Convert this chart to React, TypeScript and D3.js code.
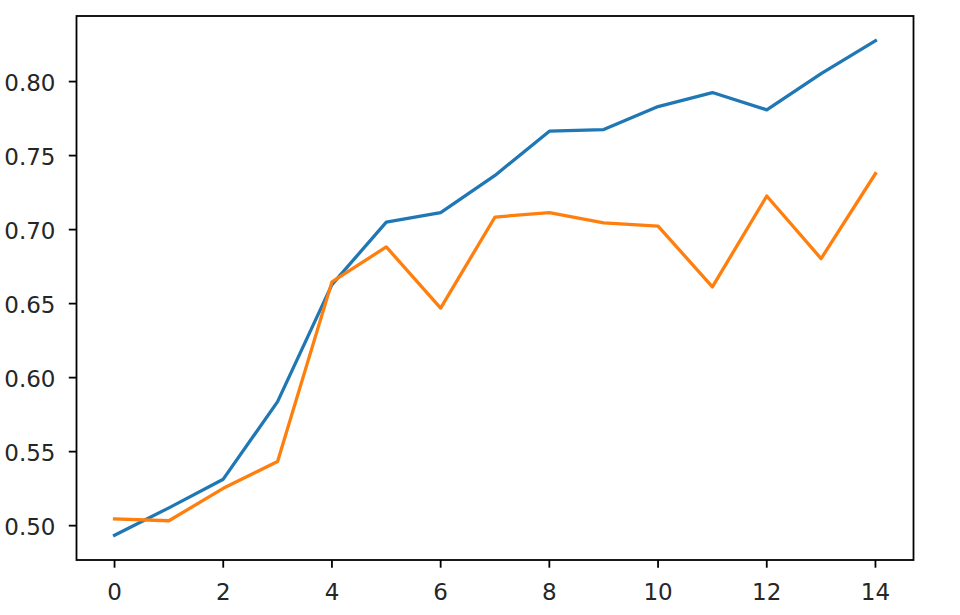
import React, { useEffect, useRef } from "react";
import * as d3 from "d3";

// epochs 0..14
const epochs = [0, 1, 2, 3, 4, 5, 6, 7, 8, 9, 10, 11, 12, 13, 14];
const seriesA = [0.4935, 0.512, 0.5314, 0.5838, 0.6628, 0.7051, 0.7115, 0.7366, 0.7665, 0.7676, 0.7831, 0.7926, 0.7809, 0.8054, 0.8276];
const seriesB = [0.5045, 0.5033, 0.5252, 0.5433, 0.6647, 0.6883, 0.647, 0.7085, 0.7115, 0.7045, 0.7024, 0.6613, 0.7227, 0.6804, 0.7378];
const xTicks = [0, 2, 4, 6, 8, 10, 12, 14];
const yTicks = [0.5, 0.55, 0.6, 0.65, 0.7, 0.75, 0.8];

const App: React.FC = () => {
  const svgRef = useRef<SVGSVGElement>(null);

  useEffect(() => {
    const width = 960;
    const height = 615;
    const left = 76.5;
    const right = 913.5;
    const top = 16;
    const bottom = 560;

    const svg = d3.select(svgRef.current);
    svg.selectAll("*").remove();

    // matplotlib style 5% margins
    const all = seriesA.concat(seriesB);
    const yMin = d3.min(all)!;
    const yMax = d3.max(all)!;
    const yPad = (yMax - yMin) * 0.05;

    const x = d3.scaleLinear().domain([-0.7, 14.7]).range([left, right]);
    const y = d3.scaleLinear().domain([yMin - yPad, yMax + yPad]).range([bottom, top]);

    svg.attr("width", width).attr("height", height);
    svg.append("rect").attr("width", width).attr("height", height).attr("fill", "#fff");

    const line = d3.line<number>()
      .x((_, i) => x(epochs[i]))
      .y((d) => y(d));

    svg.append("path")
      .attr("d", line(seriesA)!)
      .attr("fill", "none")
      .attr("stroke", "#1f77b4")
      .attr("stroke-width", 3.3)
      .attr("stroke-linejoin", "round")
      .attr("stroke-linecap", "square");

    svg.append("path")
      .attr("d", line(seriesB)!)
      .attr("fill", "none")
      .attr("stroke", "#ff7f0e")
      .attr("stroke-width", 3.3)
      .attr("stroke-linejoin", "round")
      .attr("stroke-linecap", "square");

    const font = "'DejaVu Sans', sans-serif";
    const fontSize = 23;

    // y axis ticks
    const yg = svg.append("g");
    yTicks.forEach((t) => {
      yg.append("line")
        .attr("x1", left - 7.7).attr("x2", left)
        .attr("y1", y(t)).attr("y2", y(t))
        .attr("stroke", "#000").attr("stroke-width", 1.8);
      yg.append("text")
        .attr("x", left - 21)
        .attr("y", y(t) + 9)
        .attr("text-anchor", "end")
        .attr("font-family", font)
        .attr("font-size", fontSize)
        .attr("fill", "#262626")
        .text(d3.format(".2f")(t));
    });

    // x axis ticks
    const xg = svg.append("g");
    xTicks.forEach((t) => {
      xg.append("line")
        .attr("x1", x(t)).attr("x2", x(t))
        .attr("y1", bottom).attr("y2", bottom + 7.7)
        .attr("stroke", "#000").attr("stroke-width", 1.8);
      xg.append("text")
        .attr("x", x(t))
        .attr("y", bottom + 40)
        .attr("text-anchor", "middle")
        .attr("font-family", font)
        .attr("font-size", fontSize)
        .attr("fill", "#262626")
        .text(String(t));
    });

    // spines
    svg.append("rect")
      .attr("x", left).attr("y", top)
      .attr("width", right - left).attr("height", bottom - top)
      .attr("fill", "none")
      .attr("stroke", "#000")
      .attr("stroke-width", 1.8);
  }, []);

  return (
    <svg ref={svgRef} style={{ position: "absolute", left: 0, top: 0, display: "block" }}></svg>
  );
};

export default App;
